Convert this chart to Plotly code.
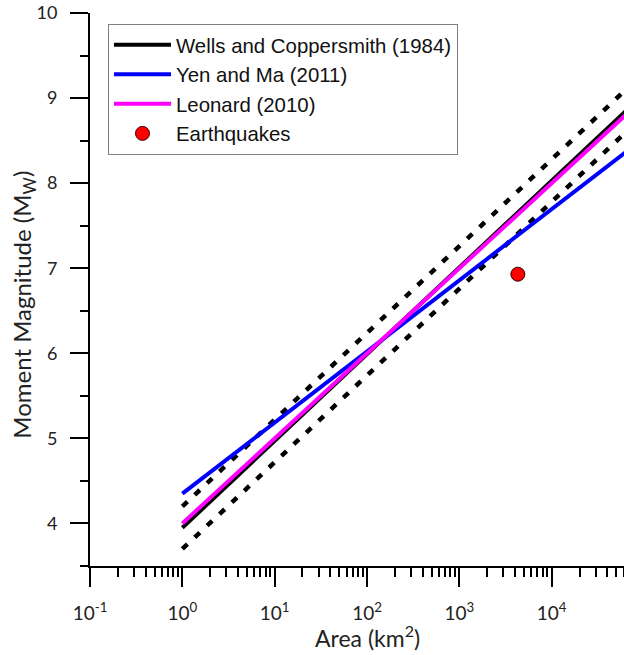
import plotly.graph_objects as go

# Rupture-area scaling relations, evaluated at the ends of the plotted area range (km^2)
area_fit = [1, 1e5]
mw_wells = [3.95, 9.05]
mw_wells_upper = [4.20, 9.30]
mw_wells_lower = [3.70, 8.80]
mw_yen_ma = [4.35, 8.53]
mw_leonard = [4.00, 9.00]

# Observed event
eq_area = [4300]
eq_mw = [6.93]

# Axis ticks
x_exponents = [-1, 0, 1, 2, 3, 4]
y_major = [4, 5, 6, 7, 8, 9, 10]
y_minor = [3.5, 4.5, 5.5, 6.5, 7.5, 8.5, 9.5]

x_tickvals = [10.0 ** e for e in x_exponents]
x_ticktext = ["10<sup>%s</sup>" % e for e in x_exponents]
x_minor = [m * 10.0 ** e for e in x_exponents for m in range(2, 10)]

tick_font = "Lato"
legend_font = "Liberation Sans"

fig = go.Figure()

fig.add_trace(go.Scatter(
    x=area_fit, y=mw_wells, mode="lines", name="Wells and Coppersmith (1984)",
    line=dict(color="#000000", width=4),
))
for band in (mw_wells_upper, mw_wells_lower):
    fig.add_trace(go.Scatter(
        x=area_fit, y=band, mode="lines", showlegend=False, hoverinfo="skip",
        line=dict(color="#000000", width=4.5, dash="7px,10px"),
    ))
fig.add_trace(go.Scatter(
    x=area_fit, y=mw_yen_ma, mode="lines", name="Yen and Ma (2011)",
    line=dict(color="#0000FF", width=4),
))
fig.add_trace(go.Scatter(
    x=area_fit, y=mw_leonard, mode="lines", name="Leonard (2010)",
    line=dict(color="#FF00FF", width=4),
))
fig.add_trace(go.Scatter(
    x=eq_area, y=eq_mw, mode="markers", name="Earthquakes",
    marker=dict(color="#FF0000", size=14, line=dict(color="#3a0000", width=1)),
))

fig.update_xaxes(
    type="log", range=[-1, 4.783],
    showline=True, linecolor="black", linewidth=2,
    showgrid=False, zeroline=False,
    ticks="outside", ticklen=19, tickwidth=2, tickcolor="black",
    tickmode="array", tickvals=x_tickvals, ticktext=x_ticktext,
    tickfont=dict(family=tick_font, size=19, color="#222"),
    ticklabelstandoff=10,
    minor=dict(tickmode="array", tickvals=x_minor, ticks="outside",
               ticklen=9, tickwidth=2, tickcolor="black", showgrid=False),
)
fig.update_yaxes(
    range=[3.5, 10],
    showline=True, linecolor="black", linewidth=2,
    showgrid=False, zeroline=False,
    ticks="outside", ticklen=18, tickwidth=2, tickcolor="black",
    tickmode="array", tickvals=y_major,
    tickfont=dict(family=tick_font, size=18, color="#222"),
    ticklabelstandoff=9,
    minor=dict(tickmode="array", tickvals=y_minor, ticks="outside",
               ticklen=8, tickwidth=2, tickcolor="black", showgrid=False),
)

fig.update_layout(
    width=624, height=655,
    margin=dict(l=90, r=0, t=13, b=89),
    plot_bgcolor="white", paper_bgcolor="white",
    showlegend=True,
    legend=dict(
        x=0.0337, y=0.980, xanchor="left", yanchor="top",
        traceorder="normal",
        bgcolor="white", bordercolor="#808080", borderwidth=1,
        font=dict(family=legend_font, size=20.4, color="#111"),
        itemwidth=57, tracegroupgap=0,
    ),
    annotations=[
        dict(text="Area (km<sup>2</sup>)", xref="paper", yref="paper",
             x=0.519, y=-0.127, xanchor="center", yanchor="middle",
             showarrow=False, font=dict(family=tick_font, size=23, color="#222")),
        dict(text="Moment Magnitude (M<sub>W</sub>)", xref="paper", yref="paper",
             x=-0.124, y=0.472, xanchor="center", yanchor="middle", textangle=-90,
             showarrow=False, font=dict(family=tick_font, size=24, color="#222")),
    ],
)

fig.write_html("out.html")
